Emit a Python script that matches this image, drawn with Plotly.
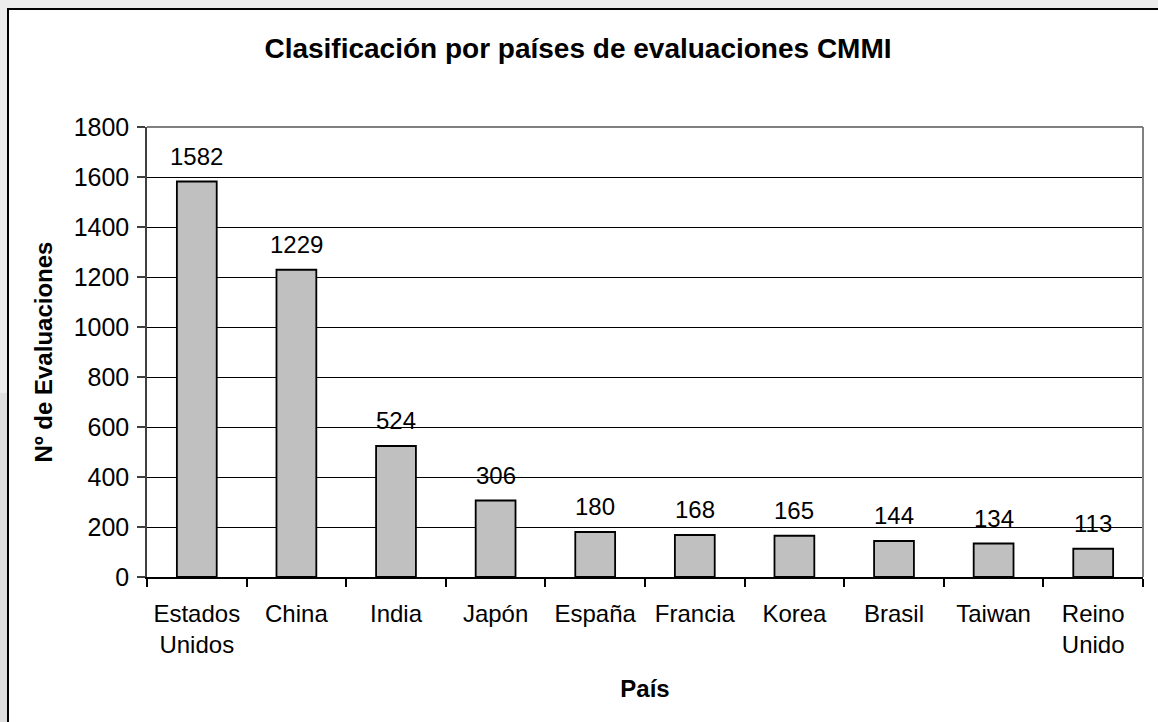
import plotly.graph_objects as go

paises = ["Estados<br>Unidos", "China", "India", "Japón", "España", "Francia",
          "Korea", "Brasil", "Taiwan", "Reino<br>Unido"]
evaluaciones = [1582, 1229, 524, 306, 180, 168, 165, 144, 134, 113]
y_ticks = [0, 200, 400, 600, 800, 1000, 1200, 1400, 1600, 1800]

W, H = 1158, 722
ML, MR, MT, MB = 147, 15, 127, 145
PW = W - ML - MR
PH = H - MT - MB

def px_x(px):
    return (px - ML) / PW

def px_y(py):
    return (H - MB - py) / PH

FONT = "Liberation Sans, Arial, sans-serif"

fig = go.Figure()
fig.add_trace(go.Bar(
    x=paises, y=evaluaciones,
    marker=dict(color="#c0c0c0", line=dict(color="#000000", width=1.8)),
    width=0.4,
    hoverinfo="x+y",
))

for p, v in zip(paises, evaluaciones):
    fig.add_annotation(x=p, y=v, text=str(v), showarrow=False,
                       yanchor="bottom", yshift=10,
                       font=dict(family=FONT, size=24, color="#000000"))

shapes = [
    # white chart area with black border
    dict(type="rect", xref="paper", yref="paper",
         x0=px_x(8), x1=px_x(1170), y0=px_y(9), y1=px_y(740),
         fillcolor="#ffffff", line=dict(color="#000000", width=2), layer="below"),
    # darker gray strip on the left lower part
    dict(type="rect", xref="paper", yref="paper",
         x0=px_x(-5), x1=px_x(7), y0=px_y(393), y1=px_y(740),
         fillcolor="#dedede", line=dict(width=0), layer="below"),
    # plot area top and right border
    dict(type="line", xref="paper", yref="paper", x0=0, x1=1, y0=1, y1=1,
         line=dict(color="#808080", width=2), layer="above"),
    dict(type="line", xref="paper", yref="paper", x0=1, x1=1, y0=0, y1=1,
         line=dict(color="#808080", width=2), layer="above"),
]

fig.update_layout(
    width=W, height=H,
    margin=dict(l=ML, r=MR, t=MT, b=MB, autoexpand=False),
    paper_bgcolor="#ececec",
    plot_bgcolor="#fafafa",
    font=dict(family=FONT, size=24, color="#000000"),
    title=dict(text="<b>Clasificación por países de evaluaciones CMMI</b>",
               x=578 / W, xanchor="center", xref="container",
               y=1 - 48 / H, yanchor="middle",
               font=dict(family=FONT, size=28, color="#000000")),
    showlegend=False,
    shapes=shapes,
    bargap=0.6,
)

fig.update_xaxes(
    type="category",
    tickson="boundaries",
    ticks="outside", ticklen=8, tickcolor="#000000", tickwidth=1.5,
    showline=True, linecolor="#000000", linewidth=1.5,
    showgrid=False,
    ticklabelstandoff=14,
    tickfont=dict(family=FONT, size=24),
    title=dict(text="<b>País</b>", standoff=23,
               font=dict(family=FONT, size=24)),
)
fig.update_yaxes(
    range=[0, 1800],
    tickvals=y_ticks,
    ticks="outside", ticklen=8, tickcolor="#404040", tickwidth=1.5,
    showline=True, linecolor="#404040", linewidth=1.5,
    showgrid=True, gridcolor="#000000", gridwidth=1,
    zeroline=False,
    ticklabelstandoff=3,
    tickfont=dict(family=FONT, size=25),
    title=dict(text="<b>Nº de Evaluaciones</b>", standoff=14,
               font=dict(family=FONT, size=24)),
)

fig.write_html(
    "out.html",
    config={"displayModeBar": False},
    post_script="document.body.style.margin='0';document.body.style.background='#ececec';",
)
